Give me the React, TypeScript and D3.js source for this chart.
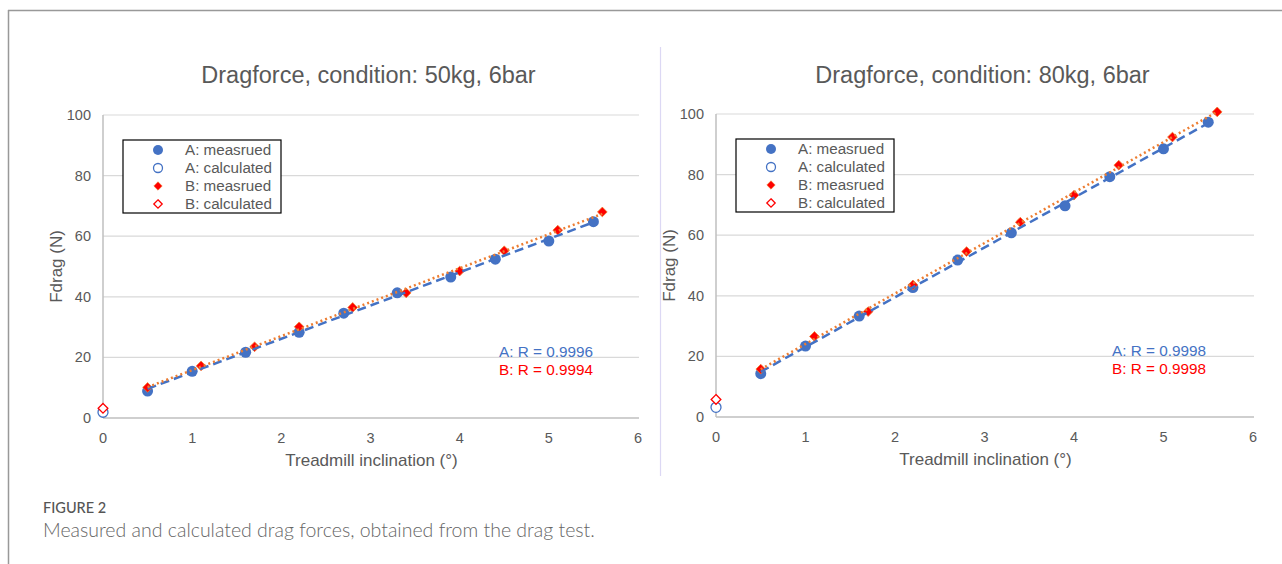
import React from 'react';
import * as d3 from 'd3';

// x values (treadmill inclination, degrees)
const xA = [0.5, 1, 1.6, 2.2, 2.7, 3.3, 3.9, 4.4, 5, 5.5];
const xB = [0.5, 1.1, 1.7, 2.2, 2.8, 3.4, 4, 4.5, 5.1, 5.6];

// 50kg, 6bar
const a50 = [8.9, 15.4, 21.7, 28.3, 34.6, 41.3, 46.5, 52.4, 58.4, 64.8];
const b50 = [10.1, 17.2, 23.5, 30.1, 36.5, 41.3, 48.5, 55.2, 62, 68];
const calc50 = { a: 1.9, b: 3.2 };

// 80kg, 6bar
const a80 = [14.3, 23.4, 33.3, 42.7, 51.8, 60.8, 69.7, 79.3, 88.5, 97.3];
const b80 = [15.8, 26.6, 34.8, 43.6, 54.6, 64.3, 73.2, 83.1, 92.4, 100.7];
const calc80 = { a: 3.2, b: 5.8 };

const xTicks = [0, 1, 2, 3, 4, 5, 6];
const yTicks = [0, 20, 40, 60, 80, 100];
const legendLabels = ['A: measrued', 'A: calculated', 'B: measrued', 'B: calculated'];

const BLUE = '#4472C4';
const RED = '#FF0000';
const ORANGE = '#ED7D31';
const TXT = '#595959';
const FONT = '"Liberation Sans", Arial, sans-serif';

function fit(xs: number[], ys: number[]) {
  const mx = d3.mean(xs)!;
  const my = d3.mean(ys)!;
  const num = d3.sum(xs, (x, i) => (x - mx) * (ys[i] - my));
  const den = d3.sum(xs, x => (x - mx) * (x - mx));
  const m = num / den;
  return (x: number) => my + m * (x - mx);
}

const diamond = d3.symbol().type(d3.symbolDiamond2).size(60);
const smallDiamond = d3.symbol().type(d3.symbolDiamond2).size(45);

function Panel(props: {
  x0: number; x1: number; y0: number; y1: number;
  title: string; a: number[]; b: number[]; calc: { a: number; b: number };
  rA: string; rB: string;
}) {
  const { a, b, calc } = props;
  const x = d3.scaleLinear().domain([0, 6]).range([props.x0, props.x1]);
  const y = d3.scaleLinear().domain([0, 100]).range([props.y0, props.y1]);
  const fa = fit(xA, a);
  const fb = fit(xB, b);
  const line = d3.line<number[]>().x(d => x(d[0])).y(d => y(d[1]));
  const lineA = line([[xA[0], fa(xA[0])], [xA[xA.length - 1], fa(xA[xA.length - 1])]])!;
  const lineB = line([[xB[0], fb(xB[0])], [xB[xB.length - 1], fb(xB[xB.length - 1])]])!;
  const cx = (props.x0 + props.x1) / 2;
  const lx = props.x0 + 20;
  const ly = props.y1 + 25;

  return (
    <g fontFamily={FONT}>
      <text x={cx - 2} y={83} textAnchor="middle" fontSize={23.5} fill={TXT}>{props.title}</text>
      {yTicks.map(t => (
        <g key={t}>
          {t > 0 && <line x1={props.x0} x2={props.x1 + 1} y1={y(t)} y2={y(t)} stroke="#d9d9d9" strokeWidth={1.2} />}
          <text x={props.x0 - 12} y={y(t) + 5} textAnchor="end" fontSize={14.5} fill={TXT}>{t}</text>
        </g>
      ))}
      <line x1={props.x0} x2={props.x0} y1={props.y1} y2={props.y0} stroke="#bfbfbf" strokeWidth={1.5} />
      <line x1={props.x0} x2={props.x1 + 1} y1={props.y0} y2={props.y0} stroke="#bfbfbf" strokeWidth={1.5} />
      {xTicks.map(t => (
        <text key={t} x={x(t)} y={props.y0 + 25} textAnchor="middle" fontSize={14.5} fill={TXT}>{t}</text>
      ))}
      <text x={cx + 1} y={props.y0 + 48} textAnchor="middle" fontSize={17} fill={TXT}>Treadmill inclination (°)</text>
      <text transform={`translate(${props.x0 - 41},${(props.y0 + props.y1) / 2}) rotate(-90)`} textAnchor="middle" fontSize={17} fill={TXT}>Fdrag (N)</text>

      {a.map((v, i) => <circle key={'a' + i} cx={x(xA[i])} cy={y(v)} r={5.5} fill={BLUE} />)}
      {b.map((v, i) => (
        <path key={'b' + i} d={diamond()!} transform={`translate(${x(xB[i])},${y(v)})`} fill={RED} stroke={ORANGE} strokeWidth={0.8} />
      ))}
      <path d={lineA} stroke={BLUE} strokeWidth={2.5} strokeDasharray="9,5" fill="none" />
      <path d={lineB} stroke={ORANGE} strokeWidth={2.5} strokeDasharray="2,3" fill="none" />

      <circle cx={x(0)} cy={y(calc.a)} r={5} fill="white" stroke={BLUE} strokeWidth={1.3} />
      <path d={diamond()!} transform={`translate(${x(0)},${y(calc.b)})`} fill="white" stroke={RED} strokeWidth={1.3} />

      <rect x={lx} y={ly} width={158} height={73} fill="white" stroke="#000" strokeWidth={1.2} />
      {legendLabels.map((l, i) => {
        const ry = ly + 10 + i * 18;
        const mx = lx + 35;
        return (
          <g key={l}>
            {i === 0 && <circle cx={mx} cy={ry} r={5} fill={BLUE} />}
            {i === 1 && <circle cx={mx} cy={ry} r={4.5} fill="white" stroke={BLUE} strokeWidth={1.3} />}
            {i === 2 && <path d={smallDiamond()!} transform={`translate(${mx},${ry})`} fill={RED} stroke={ORANGE} strokeWidth={0.6} />}
            {i === 3 && <path d={smallDiamond()!} transform={`translate(${mx},${ry})`} fill="white" stroke={RED} strokeWidth={1.3} />}
            <text x={lx + 62} y={ry + 5} fontSize={15.2} fill={TXT}>{l}</text>
          </g>
        );
      })}

      <text x={props.x0 + 396} y={props.y0 - 61} fontSize={15.3} fill={BLUE}>{props.rA}</text>
      <text x={props.x0 + 396} y={props.y0 - 43} fontSize={15.3} fill={RED}>{props.rB}</text>
    </g>
  );
}

export default function App() {
  return (
    <svg width={1282} height={564} style={{ position: 'fixed', left: 0, top: 0, background: 'white' }}>
      <rect x={0} y={0} width={1282} height={564} fill="white" />
      <line x1={8} x2={1282} y1={10.5} y2={10.5} stroke="#999" strokeWidth={1.5} />
      <line x1={8.5} x2={8.5} y1={10} y2={564} stroke="#999" strokeWidth={1.5} />
      <line x1={660.5} x2={660.5} y1={47} y2={476} stroke="#dcd8f4" strokeWidth={1.2} />
      <Panel x0={103} x1={638} y0={418} y1={115} title="Dragforce, condition: 50kg, 6bar"
        a={a50} b={b50} calc={calc50} rA="A: R = 0.9996" rB="B: R = 0.9994" />
      <Panel x0={716} x1={1253} y0={417} y1={114} title="Dragforce, condition: 80kg, 6bar"
        a={a80} b={b80} calc={calc80} rA="A: R = 0.9998" rB="B: R = 0.9998" />
      <text x={43} y={513} fontFamily='Lato, "Open Sans", sans-serif' fontSize={14.5} fill="#555" fontWeight={500}>FIGURE 2</text>
      <text x={43} y={537} fontFamily='Lato, "Open Sans", sans-serif' fontSize={19.5} fill="#666" fontWeight={300}>Measured and calculated drag forces, obtained from the drag test.</text>
    </svg>
  );
}
